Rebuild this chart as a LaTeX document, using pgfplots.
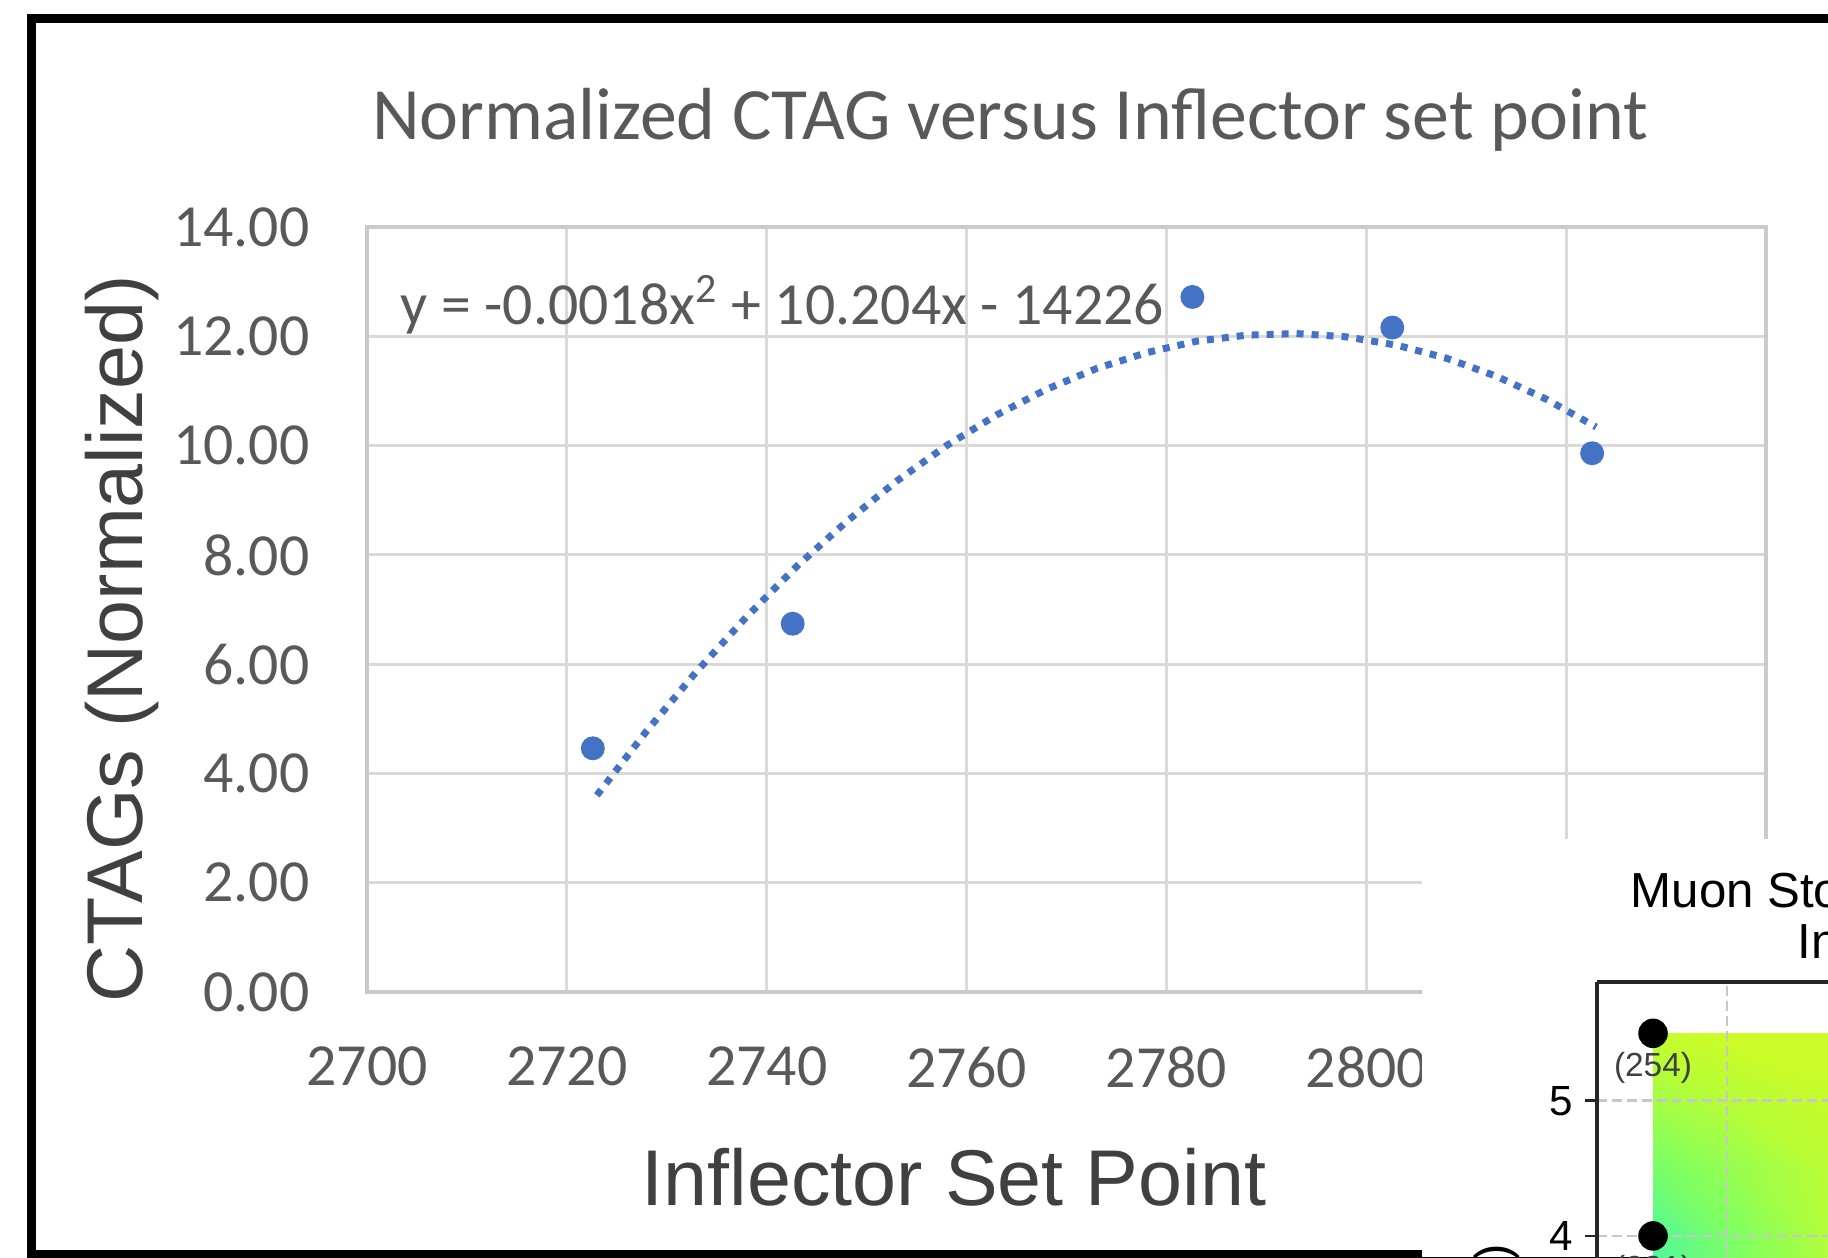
\documentclass[border=0pt]{standalone}
\usepackage{pgfplots}
\pgfplotsset{compat=1.18}
\usepackage{fontspec}
\setmainfont{Carlito}
\newfontfamily\arial{Liberation Sans}

\definecolor{xlblue}{HTML}{4472C4}
\definecolor{txtgray}{HTML}{595959}
\definecolor{labgray}{HTML}{404040}
\definecolor{gridgray}{HTML}{D9D9D9}
\definecolor{axisgray}{HTML}{CACACA}

\begin{document}
\begin{tikzpicture}
\clip (0,0) rectangle (18.28cm,12.57cm);
\useasboundingbox (0,0) rectangle (18.28cm,12.57cm);

% main chart
\begin{axis}[
    at={(3.67cm,2.65cm)}, anchor=south west,
    scale only axis, width=13.99cm, height=7.65cm,
    xmin=2700, xmax=2840, ymin=0, ymax=14,
    xtick={2700,2720,...,2840}, ytick={0,2,...,14},
    xticklabels={2700,2720,2740,2760,2780,2800,,},
    grid=major,
    major grid style={draw=gridgray, line width=0.9pt},
    axis line style={draw=axisgray, line width=1.2pt},
    major tick length=0pt, tick style={draw=none},
    /pgf/number format/assume math mode=true,
    ticklabel style={font=\fontsize{17}{17}\selectfont, text=txtgray, inner sep=0pt},
    x tick label style={yshift=-0.54cm},
    y tick label style={/pgf/number format/.cd, fixed, fixed zerofill, precision=2, /tikz/.cd, xshift=-0.57cm},
    title={Normalized CTAG versus Inflector set point},
    title style={at={(axis description cs:0.4596,1.113)}, anchor=center,
        font=\fontsize{21}{21}\selectfont, text=txtgray},
    xlabel={Inflector Set Point},
    xlabel style={at={(axis description cs:0.4196,-0.2418)}, anchor=center,
        font=\arial\fontsize{22.5}{22.5}\selectfont, text=labgray},
    ylabel={CTAGs (Normalized)},
    ylabel style={at={(axis description cs:-0.1751,0.4614)}, anchor=center,
        font=\arial\fontsize{22.5}{22.5}\selectfont, text=labgray},
    clip=false,
]
% trendline
\addplot[xlblue, line width=0.07cm, dash pattern=on 0.07cm off 0.08cm] coordinates {
    (2723,3.60) (2728,4.78) (2733,5.87) (2738,6.87) (2743,7.79)
    (2748,8.61) (2753,9.35) (2758,10.00) (2763,10.56) (2768,11.03)
    (2773,11.41) (2778,11.70) (2783,11.91) (2788,12.02) (2793,12.05)
    (2798,11.99) (2803,11.84) (2808,11.60) (2813,11.27) (2818,10.85)
    (2823,10.34)
};
% measured points
\addplot[only marks, mark=*, mark size=3.2pt, xlblue] coordinates {
    (2722.6,4.46) (2742.6,6.74) (2782.6,12.72) (2802.6,12.16) (2822.6,9.86)
};
\node[anchor=west, inner sep=0pt, text=txtgray, font=\fontsize{17}{17}\selectfont]
    at (axis cs:2703.3,12.57) {y = -0.0018x\textsuperscript{2} + 10.204x - 14226};
\end{axis}

% outer frame
\draw[line width=0.09cm] (19cm,12.385cm) -- (0.31cm,12.385cm) -- (0.31cm,0.025cm) -- (19cm,0.025cm);

% pasted inset of a second figure
\fill[white] (14.22cm,0) rectangle (18.4cm,4.18cm);
\node[anchor=base west, inner sep=0pt, font=\arial\fontsize{14}{14}\selectfont]
    at (16.30cm,3.50cm) {Muon Storage versus};
\node[anchor=base west, inner sep=0pt, font=\arial\fontsize{14}{14}\selectfont]
    at (17.97cm,2.99cm) {Inflector Current};
\node[rotate=90, anchor=east, inner sep=0pt, font=\arial\fontsize{14}{14}\selectfont]
    at (14.97cm,0.14cm) {Kicker Strength (kV)};

\begin{axis}[
    at={(15.97cm,-1.14cm)}, anchor=south west,
    scale only axis, width=6cm, height=3.89cm,
    view={0}{90},
    xmin=0, xmax=600, ymin=3, ymax=5.88,
    xtick={130,330}, xticklabels={},
    ytick={3,4,5},
    grid=major,
    major grid style={draw=black!22, dash pattern=on 0.1cm off 0.05cm, line width=0.8pt},
    axis line style={draw=black!85, line width=0.9pt},
    tick align=outside, tick pos=left, major tick length=0.12cm,
    tick style={black!85, line width=0.8pt},
    /pgf/number format/assume math mode=true,
    ticklabel style={font=\arial\fontsize{12}{12}\selectfont},
    colormap={inset}{rgb255=(64,245,175) rgb255=(130,255,95) rgb255=(205,252,38)},
    point meta min=0, point meta max=1,
    axis on top,
    clip=false,
]
\addplot3[surf, shader=interp, mesh/ordering=x varies] coordinates {
    (56,3.0,0.00) (130,3.0,0.35) (231,3.0,0.75) (400,3.0,0.90) (600,3.0,1.00)

    (56,4.0,0.15) (130,4.0,0.45) (231,4.0,0.82) (400,4.0,0.95) (600,4.0,1.00)

    (56,4.5,0.42) (130,4.5,0.62) (231,4.5,0.88) (400,4.5,0.97) (600,4.5,1.00)

    (56,5.0,0.72) (130,5.0,0.85) (231,5.0,0.95) (400,5.0,1.00) (600,5.0,1.00)

    (56,5.5,0.95) (130,5.5,1.00) (231,5.5,1.00) (400,5.5,1.00) (600,5.5,1.00)
};
\addplot3[only marks, mark=*, mark size=4pt, black] coordinates {
    (56,5.5,1) (56,4.0,1)
};
\node[font=\arial\fontsize{9.5}{9.5}\selectfont, text=labgray] at (axis cs:56,5.244,1) {(254)};
\node[font=\arial\fontsize{9.5}{9.5}\selectfont, text=labgray] at (axis cs:56,3.74,1) {(231)};
\end{axis}
\end{tikzpicture}
\end{document}
